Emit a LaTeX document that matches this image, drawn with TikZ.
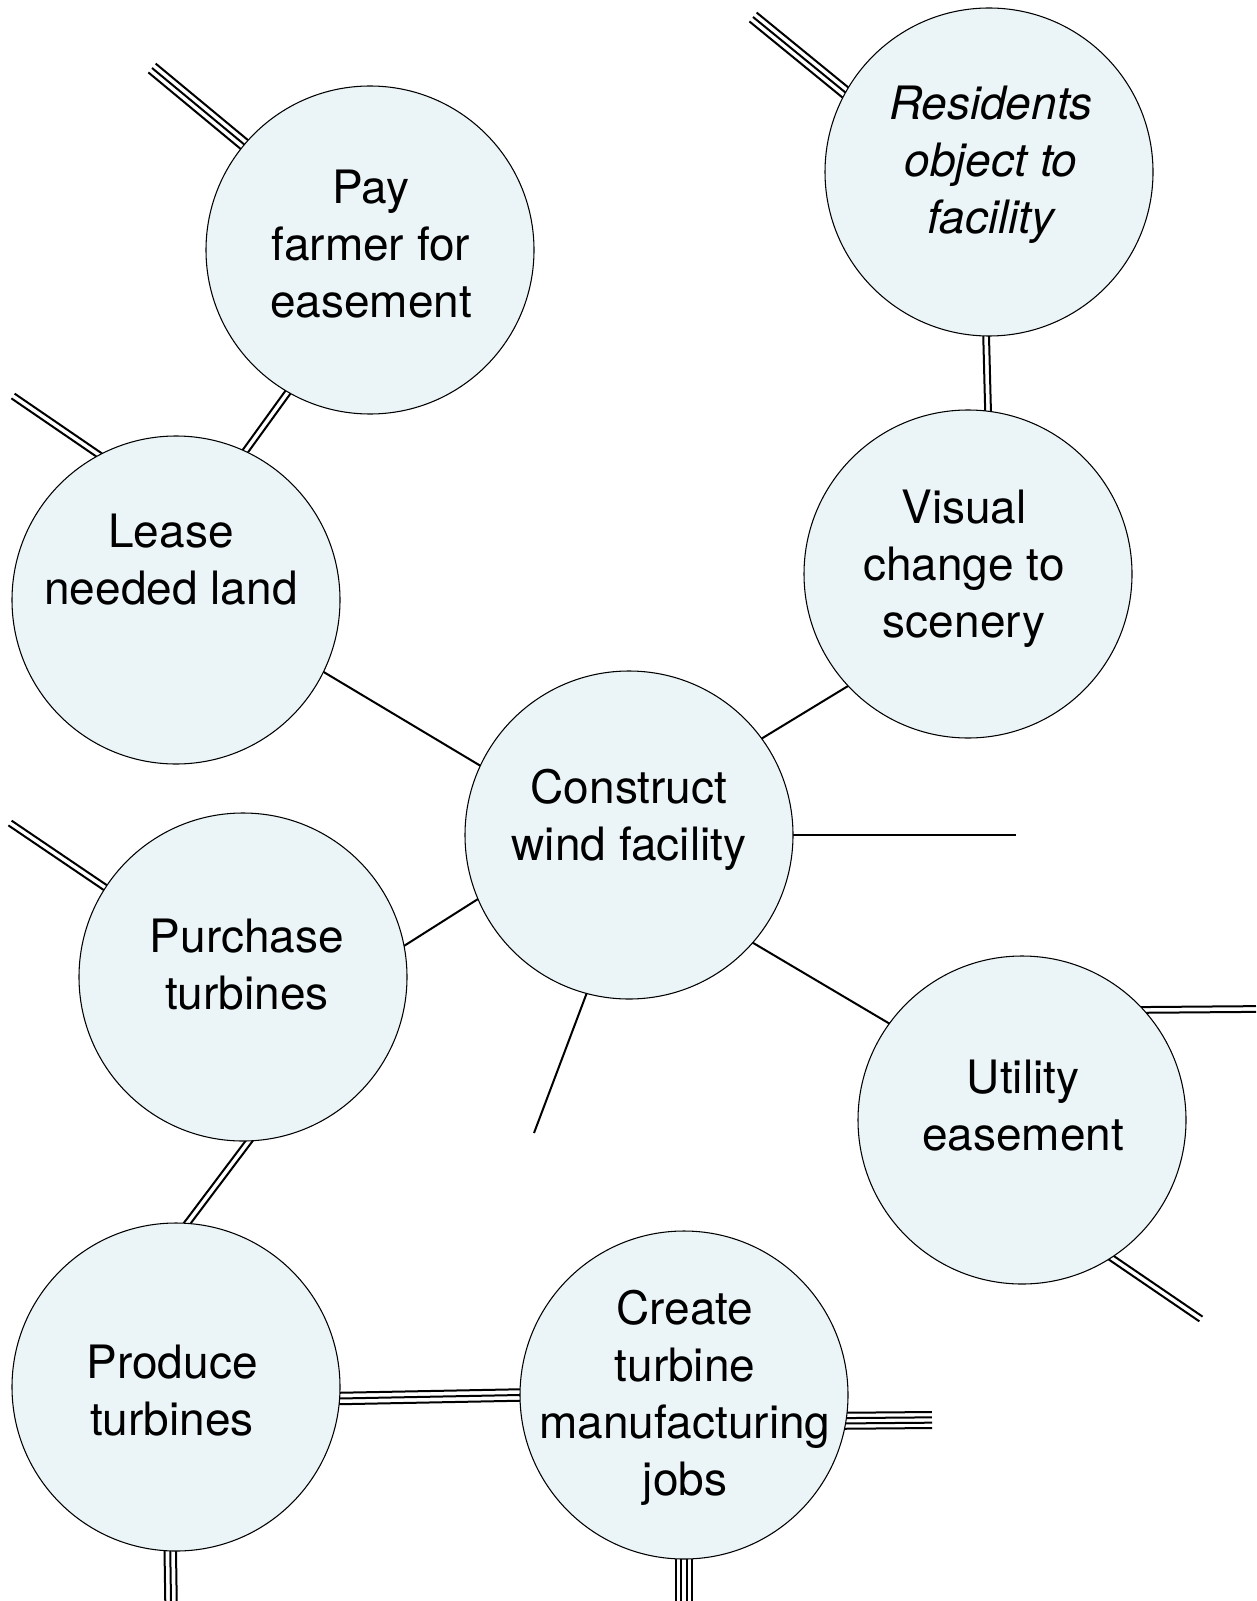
\documentclass[tikz,border=0pt]{standalone}
\usepackage{fontspec}
\setmainfont{TeX Gyre Heros}
\usetikzlibrary{calc}
\definecolor{bubble}{RGB}{235,244,247}
\pgfdeclarelayer{bg}
\pgfsetlayers{bg,main}
\tikzset{
  bub/.style={circle, draw=black, line width=0.8pt, fill=bubble, minimum size=246pt, inner sep=0pt},
  conn/.style={line width=1.5pt, line cap=butt},
  lbl/.style={align=center, inner sep=0pt, font=\fontsize{34.5}{42.75}\selectfont},
}
% strands between two circles (both ends extended under the circles)
\newcommand\strandsCC[3]{\begin{pgfonlayer}{bg}\foreach \o in {#1}{\draw[conn, shorten <=-3pt, shorten >=-3pt] ($(#2)!\o!90:(#3)$) -- ($(#3)!\o!-90:(#2)$);}\end{pgfonlayer}}
% strands from a circle to a free end
\newcommand\strandsCF[3]{\begin{pgfonlayer}{bg}\foreach \o in {#1}{\draw[conn, shorten <=-3pt] ($(#2)!\o!90:(#3)$) -- ($(#3)!\o!-90:(#2)$);}\end{pgfonlayer}}
\begin{document}
\begin{tikzpicture}[x=0.75pt, y=-0.75pt]
\useasboundingbox (0,0) rectangle (1256,1601);
% circles
\node[bub] (pay)    at (370,250)  {};
\node[bub] (res)    at (989,172)  {};
\node[bub] (lease)  at (176,600)  {};
\node[bub] (vis)    at (968,574)  {};
\node[bub] (con)    at (629,835)  {};
\node[bub] (pur)    at (243,977)  {};
\node[bub] (util)   at (1022,1120) {};
\node[bub] (prod)   at (176,1387) {};
\node[bub] (create) at (684,1395) {};
% labels
\node[lbl] (payT)    at (371,244)  {Pay\\farmer for\\easement};
\node[lbl] (resT)    at (991,165)  {\itshape Residents\\\itshape object to\\\itshape facility};
\node[lbl] (leaseT)  at (171,560)  {Lease\\needed land};
\node[lbl] (visT)    at (964,569)  {Visual\\change to\\scenery};
\node[lbl] (conT)    at (629,820)  {Construct\\wind facility};
\node[lbl] (purT)    at (247,965)  {Purchase\\turbines};
\node[lbl] (utilT)   at (1023,1106) {Utility\\easement};
\node[lbl] (prodT)   at (172,1391) {Produce\\turbines};
\node[lbl] (createT) at (685,1398) {Create\\turbine\\manufacturing\\jobs};
% free ends
\coordinate (payE)   at (152,68);
\coordinate (resE)   at (753,17);
\coordinate (leaseE) at (13,396);
\coordinate (purE)   at (10,823);
\coordinate (conR)   at (1016,835);
\coordinate (conB)   at (534,1133);
\coordinate (utilR)  at (1256,1009);
\coordinate (utilB)  at (1201,1319);
\coordinate (createR) at (932,1420);
\coordinate (prodB)  at (171,1601);
\coordinate (createB) at (684,1601);
% single connectors
\strandsCC{0pt}{lease.334.8}{con.155.1}
\strandsCC{0pt}{con.36.7}{vis.223.4}
\strandsCF{0pt}{con.0}{conR}
\strandsCC{0pt}{con.203.6}{pur.11.8}
\strandsCC{0pt}{con.319.2}{util.144.8}
\strandsCF{0pt}{con.255.1}{conB}
% double connectors
\strandsCC{-2.15pt,2.15pt}{pay.240.8}{lease.65.2}
\strandsCF{-2.15pt,2.15pt}{lease.118.6}{leaseE}
\strandsCC{-2.15pt,2.15pt}{res.269.3}{vis.83.7}
\strandsCF{-2.15pt,2.15pt}{pur.147.6}{purE}
\strandsCC{-2.15pt,2.15pt}{pur.272.4}{prod.86.9}
\strandsCF{-2.15pt,2.15pt}{util.42.6}{utilR}
\strandsCF{-2.15pt,2.15pt}{util.303.2}{utilB}
% triple connectors
\strandsCF{-4.3pt,0pt,4.3pt}{pay.140.1}{payE}
\strandsCF{-4.3pt,0pt,4.3pt}{res.151.4}{resE}
\strandsCC{-4.3pt,0pt,4.3pt}{prod.356.9}{create.180.4}
\strandsCF{-4.3pt,0pt,4.3pt}{prod.268.3}{prodB}
% quadruple connectors
\strandsCF{-6pt,-2pt,2pt,6pt}{create.351.2}{createR}
\strandsCF{-6pt,-2pt,2pt,6pt}{create.270}{createB}
\end{tikzpicture}
\end{document}
